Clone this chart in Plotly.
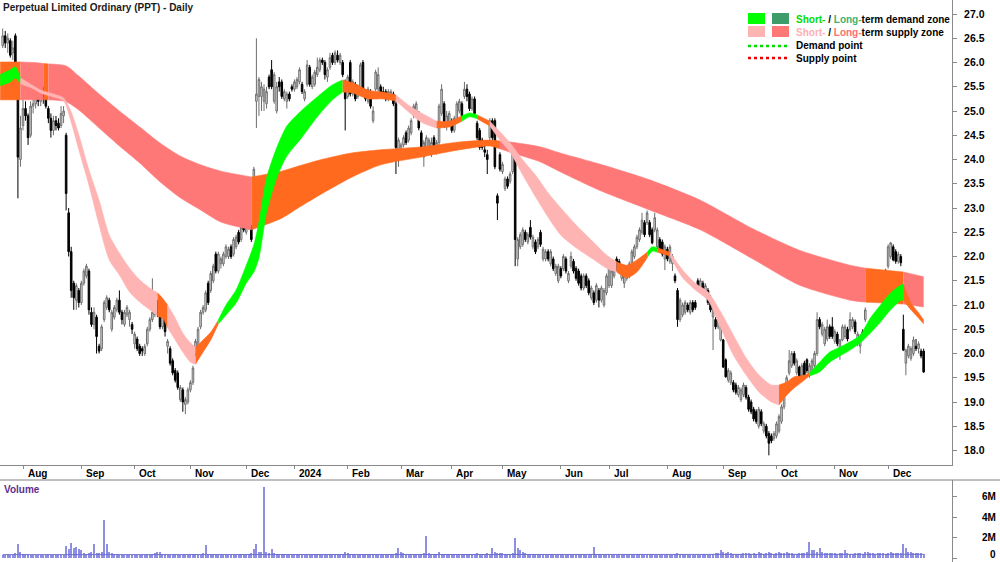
import plotly.graph_objects as go

# ---------------- data ----------------
opens = [
 26.35,26.55,26.40,26.45,26.20,26.55,25.55,24.00,
 24.70,25.05,24.90,24.50,25.10,25.15,25.30,25.20,25.35,25.40,25.05,24.85,24.60,24.80,24.75,24.70,24.90,24.50,22.90,22.10,21.45,21.10,21.30,
 21.05,21.45,21.60,21.70,20.85,20.60,20.75,20.15,20.10,20.70,20.95,21.10,20.50,20.75,20.90,21.10,20.85,20.60,20.80,20.70,20.60,
 20.20,20.30,20.15,20.10,20.00,20.20,20.50,20.70,20.80,21.05,20.95,20.55,20.70,20.15,20.10,19.85,19.65,19.60,19.05,19.25,18.95,19.00,
 19.25,19.40,20.00,20.10,20.55,20.85,20.90,21.45,21.30,21.50,22.05,21.70,21.85,21.85,22.00,22.00,22.20,22.05,22.20,22.50,22.35,22.70,
 22.50,22.60,22.60,23.00,25.20,25.30,25.30,25.20,25.15,25.70,25.85,25.20,25.00,25.60,25.60,25.25,25.20,25.35,25.50,
 25.45,25.50,25.60,25.55,25.25,25.55,25.90,25.50,25.55,25.75,25.85,26.05,26.00,25.70,25.90,26.15,26.00,26.15,26.00,26.00,25.60,
 25.30,26.00,25.35,25.55,25.30,25.45,26.00,25.40,25.20,25.40,24.80,25.45,25.45,25.50,25.40,25.40,25.25,25.30,25.35,25.15,24.00,
 24.20,24.30,24.55,24.40,24.55,24.90,24.95,24.95,24.55,24.05,24.15,24.20,24.25,24.45,24.15,24.35,24.95,25.15,24.70,24.75,
 24.80,24.60,24.80,25.00,25.15,25.30,25.45,25.35,25.05,25.25,24.75,24.60,24.40,24.20,24.10,24.45,24.80,24.80,23.25,24.10,
 23.75,23.40,23.60,23.55,23.75,24.00,21.95,22.20,22.25,22.50,22.30,22.60,22.20,22.30,22.20,22.50,21.95,21.95,22.10,21.85,21.95,21.65,21.50,
 21.75,21.75,21.95,21.50,21.80,21.90,21.75,21.70,21.60,21.35,21.60,21.50,21.15,21.25,21.10,21.30,21.10,21.00,21.25,
 21.40,21.40,21.60,21.95,21.90,21.55,21.45,21.55,21.60,21.87,22.00,22.20,22.35,22.50,22.70,22.70,22.70,22.55,22.55,22.20,22.35,22.30,21.95,
 22.15,21.90,21.85,21.60,21.30,20.70,20.80,20.85,21.00,20.85,21.05,21.05,21.50,21.30,21.45,21.20,21.30,21.15,20.75,20.70,20.55,20.28,
 20.28,19.87,19.45,19.40,19.40,19.35,19.15,19.05,19.15,19.30,19.10,19.00,18.85,18.80,18.50,18.80,18.40,18.50,18.35,18.30,18.25,
 18.30,18.40,18.60,18.90,19.25,19.60,19.75,20.00,19.60,19.72,19.55,19.80,19.87,19.55,19.60,19.75,20.00,20.70,20.40,20.20,20.30,20.55,20.55,
 20.25,20.40,20.07,20.28,20.35,20.50,20.50,20.55,20.65,20.20,20.15,20.45,20.70,21.10,21.65,21.25,21.45,21.65,21.60,21.35,21.45,
 21.80,22.00,22.20,22.10,21.90,22.00,20.50,19.80,19.95,19.90,20.00,20.15,20.10,20.05,20.05,
]
highs = [
 26.70,26.65,26.60,26.50,26.45,26.60,25.60,24.90,
 25.30,25.20,24.95,25.20,25.25,25.45,25.50,25.45,25.50,25.50,25.10,24.95,24.90,24.90,24.85,25.10,25.10,24.55,23.00,22.20,21.50,21.45,21.35,
 21.50,21.75,21.85,21.75,20.95,20.95,20.80,20.20,20.60,21.10,21.20,21.15,20.90,21.00,21.15,21.30,20.90,20.90,21.00,20.90,20.65,
 20.45,20.35,20.20,20.15,20.20,20.55,20.75,21.55,21.10,21.10,21.00,20.85,20.75,20.30,20.15,19.90,19.70,19.65,19.35,19.30,19.10,19.30,
 19.45,19.75,20.30,20.55,20.90,21.00,21.30,21.50,21.70,21.85,22.10,22.10,22.00,22.10,22.25,22.20,22.25,22.40,22.45,22.55,22.65,22.75,
 22.80,22.90,22.65,23.85,26.50,25.70,25.60,25.55,25.50,25.75,26.05,25.80,25.60,25.70,25.65,25.45,25.40,25.40,25.55,
 25.65,25.70,25.90,25.60,25.45,26.05,25.95,25.75,25.85,26.10,26.10,26.10,26.05,25.90,26.20,26.20,26.25,26.25,26.20,26.05,25.65,
 25.75,26.05,25.65,25.60,25.55,26.00,26.05,25.45,25.50,25.45,25.10,25.85,25.90,25.55,25.50,25.45,25.45,25.45,25.40,25.20,24.45,
 24.35,24.50,24.60,24.70,24.85,25.15,25.20,25.00,24.60,24.40,24.50,24.45,24.45,24.50,24.40,25.15,25.55,25.20,25.00,25.00,
 24.85,24.90,25.20,25.25,25.20,25.60,25.55,25.40,25.30,25.30,24.80,24.65,24.45,24.30,24.20,24.85,24.85,24.85,23.30,24.15,
 23.95,23.65,23.65,23.75,24.30,24.05,22.40,22.50,22.60,22.55,22.50,22.75,22.45,22.35,22.40,22.55,22.20,22.15,22.15,22.15,22.00,21.85,21.85,
 21.80,22.05,22.00,21.70,22.10,21.95,21.80,21.75,21.65,21.65,21.65,21.55,21.40,21.30,21.45,21.35,21.40,21.35,21.65,
 21.85,21.75,21.90,22.00,21.95,21.75,21.70,21.80,21.90,22.15,22.25,22.45,22.60,22.90,22.75,22.95,22.75,22.60,22.90,22.60,22.40,22.35,22.25,
 22.20,22.25,22.05,21.65,21.35,21.15,21.05,21.10,21.05,21.10,21.10,21.10,21.55,21.55,21.50,21.45,21.35,21.20,21.00,20.75,20.75,20.60,
 20.30,19.90,19.70,19.65,19.45,19.40,19.35,19.30,19.40,19.35,19.15,19.05,18.90,18.85,18.90,18.85,18.60,18.55,18.40,18.35,18.40,
 18.60,18.75,18.95,19.35,19.55,20.07,20.05,20.05,19.90,19.75,19.80,19.85,19.90,19.80,19.90,20.05,20.85,20.75,20.65,20.55,20.70,20.60,20.75,
 20.50,20.45,20.30,20.60,20.60,20.55,20.85,20.75,20.70,20.45,20.40,20.50,20.95,21.70,21.70,21.55,21.50,21.70,21.65,21.55,21.75,
 22.25,22.30,22.25,22.15,22.10,22.05,20.80,20.10,20.20,20.15,20.35,20.30,20.25,20.10,20.10,
]
lows = [
 26.30,26.30,26.20,26.10,26.05,25.90,23.20,23.85,
 24.60,24.80,24.30,24.45,24.95,25.05,25.10,25.10,25.15,25.05,24.75,24.45,24.50,24.60,24.60,24.65,24.75,22.95,22.00,21.15,20.90,20.90,20.95,
 21.00,21.40,21.55,20.80,20.55,20.50,20.00,20.00,20.05,20.65,20.90,20.85,20.45,20.70,20.85,20.80,20.60,20.55,20.75,20.55,20.40,
 20.10,20.05,19.95,19.95,19.95,20.15,20.45,20.65,20.75,20.75,20.50,20.50,20.35,20.00,19.75,19.55,19.40,19.25,19.00,18.80,18.75,18.95,
 19.20,19.35,19.95,20.05,20.50,20.80,20.85,21.00,21.25,21.45,21.65,21.65,21.75,21.80,21.95,21.95,21.95,22.00,22.15,22.25,22.30,22.50,
 22.45,22.55,22.30,22.95,24.65,24.90,25.00,25.00,25.05,25.45,25.45,25.15,24.95,25.40,25.25,25.20,25.05,25.20,25.40,
 25.40,25.45,25.55,25.35,25.20,25.50,25.50,25.45,25.50,25.70,25.80,25.95,25.65,25.60,25.85,25.95,25.95,26.00,25.95,25.70,24.60,
 25.25,25.30,25.30,25.20,25.25,25.40,25.35,25.20,25.15,25.05,24.75,25.40,25.40,25.30,25.25,25.20,25.20,25.25,25.10,23.70,23.85,
 24.10,24.25,24.30,24.35,24.50,24.85,24.90,24.60,24.15,23.85,24.10,24.15,24.05,24.20,24.10,24.30,24.90,24.65,24.60,24.70,
 24.55,24.55,24.75,24.95,24.85,25.25,25.20,25.00,25.00,24.90,24.40,24.20,24.20,24.05,23.70,24.40,24.40,23.80,22.75,23.75,
 23.70,23.35,23.40,23.50,23.70,21.80,21.80,22.15,22.20,22.30,22.25,22.35,22.15,22.05,22.15,22.20,21.90,21.90,21.90,21.80,21.70,21.60,21.45,
 21.55,21.70,21.65,21.45,21.75,21.65,21.50,21.40,21.30,21.30,21.35,21.20,21.10,21.00,21.05,20.95,21.05,20.95,21.20,
 21.35,21.35,21.55,21.70,21.65,21.50,21.35,21.50,21.55,21.85,21.95,22.15,22.30,22.45,22.40,22.65,22.40,22.25,22.50,22.15,22.10,22.00,21.72,
 21.90,21.85,21.70,21.45,20.55,20.65,20.75,20.80,20.85,20.80,20.85,20.90,21.30,21.25,21.20,21.15,21.00,20.85,20.07,20.50,20.50,20.25,
 19.70,19.50,19.40,19.35,19.20,19.15,19.10,19.00,19.10,19.05,18.80,18.75,18.60,18.55,18.45,18.50,18.35,18.25,17.90,18.15,18.20,
 18.25,18.35,18.55,18.85,19.20,19.55,19.70,19.75,19.55,19.50,19.50,19.50,19.60,19.50,19.55,19.70,19.95,20.50,20.35,20.15,20.25,20.30,20.30,
 20.20,20.15,19.87,20.25,20.30,20.25,20.45,20.50,20.40,20.15,20.00,20.35,20.65,21.05,21.20,21.20,21.10,21.25,21.35,21.30,21.40,
 21.75,21.95,21.90,21.85,21.85,21.80,20.05,19.55,19.90,19.85,19.95,20.05,20.00,19.90,19.60,
]
closes = [
 26.55,26.40,26.50,26.15,26.30,25.95,24.05,24.65,
 25.05,24.90,24.45,25.10,25.15,25.35,25.20,25.40,25.30,25.10,24.85,24.60,24.80,24.70,24.65,24.95,25.00,23.30,22.10,21.30,21.15,21.40,21.05,
 21.45,21.70,21.80,20.90,20.60,20.85,20.35,20.05,20.55,21.05,21.15,20.90,20.85,20.95,21.10,20.85,20.70,20.85,20.95,20.85,20.50,
 20.40,20.10,20.00,20.05,20.15,20.50,20.70,20.85,21.05,20.85,20.55,20.80,20.45,20.25,19.80,19.60,19.45,19.30,19.30,19.00,19.05,19.25,
 19.40,19.70,20.25,20.50,20.85,20.95,21.25,21.05,21.65,21.80,21.70,22.05,21.95,22.05,22.20,22.15,22.00,22.35,22.40,22.30,22.60,22.55,
 22.75,22.80,22.35,23.80,25.35,25.65,25.50,25.45,25.40,25.50,25.50,25.75,25.50,25.50,25.30,25.40,25.35,25.25,25.45,
 25.60,25.65,25.85,25.40,25.40,25.95,25.55,25.70,25.80,25.90,26.05,26.00,25.75,25.85,26.10,26.00,26.20,26.05,26.15,25.75,25.25,
 25.70,25.35,25.60,25.25,25.50,25.95,25.40,25.25,25.45,25.10,25.00,25.80,25.75,25.35,25.30,25.25,25.40,25.40,25.15,24.25,24.40,
 24.30,24.45,24.35,24.65,24.80,25.10,25.15,24.65,24.20,24.35,24.45,24.40,24.35,24.25,24.35,25.10,25.45,24.70,24.90,24.95,
 24.60,24.85,25.15,25.20,24.90,25.45,25.30,25.05,25.25,24.95,24.45,24.25,24.25,24.15,24.00,24.80,24.45,23.85,23.10,23.80,
 23.90,23.60,23.45,23.70,24.15,22.35,22.35,22.45,22.55,22.35,22.45,22.40,22.40,22.10,22.35,22.25,22.15,22.10,21.95,22.10,21.75,21.80,21.80,
 21.60,22.00,21.70,21.65,22.00,21.70,21.55,21.45,21.35,21.60,21.40,21.25,21.35,21.05,21.40,21.10,21.35,21.30,21.60,
 21.80,21.70,21.85,21.72,21.70,21.70,21.65,21.75,21.85,22.10,22.20,22.40,22.55,22.75,22.45,22.90,22.45,22.28,22.80,22.55,22.13,22.05,22.20,
 21.95,22.20,22.00,21.50,20.70,21.10,21.00,21.05,20.90,21.05,20.90,20.95,21.35,21.50,21.25,21.40,21.05,20.90,20.95,20.55,20.70,20.55,
 19.72,19.52,19.65,19.60,19.25,19.20,19.30,19.25,19.35,19.10,18.85,18.80,18.65,18.60,18.85,18.55,18.55,18.30,18.15,18.20,18.35,
 18.55,18.70,18.90,19.30,19.50,19.85,20.00,19.80,19.85,19.52,19.75,19.55,19.65,19.75,19.85,20.00,20.70,20.55,20.60,20.50,20.55,20.35,20.35,
 20.45,20.20,20.28,20.55,20.55,20.30,20.70,20.70,20.45,20.40,20.35,20.40,20.90,21.65,21.25,21.50,21.15,21.30,21.40,21.50,21.72,
 22.20,22.28,21.93,21.90,22.05,21.87,20.07,20.07,20.15,20.10,20.28,20.10,20.20,19.95,19.62,
]
# volume, millions of shares
volumes = [
 0.30,0.25,0.35,0.28,0.30,0.45,1.40,0.55,
 0.40,0.35,0.38,0.30,0.28,0.33,0.30,0.27,0.32,0.30,0.35,0.28,0.30,0.26,0.32,0.30,0.34,1.20,0.90,1.50,1.00,1.10,0.90,
 0.80,0.50,0.40,0.45,0.55,1.40,0.50,0.45,0.60,3.70,1.40,0.60,0.45,0.40,0.35,0.30,0.32,0.28,0.30,0.27,0.25,
 0.30,0.28,0.32,0.30,0.27,0.35,0.30,0.40,0.45,0.60,0.60,0.40,0.35,0.30,0.33,0.30,0.35,0.32,0.30,0.28,0.34,0.30,
 0.35,0.40,0.38,0.30,0.32,0.45,1.30,0.40,0.35,0.30,0.32,0.28,0.30,0.33,0.30,0.27,0.30,0.32,0.28,0.30,0.35,0.30,
 0.35,0.40,0.45,0.90,1.40,0.60,0.55,7.00,0.60,0.50,0.90,0.45,0.40,0.38,0.35,0.40,0.30,0.28,0.25,
 0.30,0.32,0.35,0.30,0.28,0.33,0.30,0.32,0.35,0.30,0.28,0.30,0.33,0.30,0.32,0.30,0.28,0.35,0.30,0.32,0.60,
 0.45,0.40,0.35,0.32,0.30,0.33,0.30,0.28,0.30,0.32,0.35,0.30,0.33,0.30,0.28,0.30,0.32,0.35,0.30,0.45,1.00,
 0.60,0.45,0.40,0.35,0.32,0.30,0.33,0.35,0.40,0.45,2.20,0.50,0.40,0.35,0.38,0.60,0.35,0.30,0.32,0.30,
 0.30,0.32,0.35,0.30,0.33,0.40,0.35,0.30,0.32,0.38,0.45,0.40,0.35,0.38,0.45,0.40,1.00,0.55,0.50,0.45,
 0.45,0.40,0.42,0.38,0.45,2.00,1.00,0.80,0.55,0.45,0.40,0.38,0.35,0.33,0.30,0.35,0.32,0.30,0.33,0.35,0.30,0.28,0.32,
 0.35,0.32,0.30,0.33,0.30,0.28,0.32,0.35,0.30,0.33,0.30,0.32,0.35,1.10,0.40,0.35,0.32,0.30,0.33,
 0.35,0.32,0.30,0.33,0.35,0.30,0.28,0.32,0.30,0.33,0.35,0.38,0.40,0.35,0.32,0.30,0.33,0.35,0.32,0.30,0.28,0.30,0.32,
 0.35,0.33,0.30,0.40,0.45,0.38,0.35,0.32,0.30,0.33,0.30,0.28,0.30,0.32,0.35,0.30,0.33,0.30,0.40,0.45,0.50,0.80,
 0.60,0.50,0.55,0.45,0.40,0.38,0.42,0.40,0.45,0.50,0.45,0.40,0.48,0.42,0.60,0.45,0.40,0.50,0.55,0.45,0.40,
 0.45,0.60,0.50,0.45,0.55,0.50,0.45,0.40,0.42,0.45,0.50,0.45,0.55,1.60,0.80,0.80,0.60,1.00,0.55,0.50,0.45,0.50,0.45,
 0.45,0.40,0.45,0.50,0.80,0.45,0.40,0.42,0.45,0.50,0.45,0.40,0.55,0.60,0.50,0.45,0.40,0.45,0.50,0.45,0.40,
 0.50,0.55,0.45,0.50,0.45,0.50,1.40,1.00,0.60,0.55,0.50,0.45,0.50,0.45,0.40,
]
vol_avg_idx = [0, 60, 120, 180, 240, 300, 363]
vol_avg = [0.33, 0.34, 0.33, 0.34, 0.33, 0.35, 0.36]

# month axis (trading-day index of first session of each month)
month_idx = [8, 31, 52, 74, 96, 115, 136, 157, 177, 197, 220, 239, 262, 284, 305, 328, 349]
month_labels = ["Aug", "Sep", "Oct", "Nov", "Dec", "2024", "Feb", "Mar", "Apr",
                "May", "Jun", "Jul", "Aug", "Sep", "Oct", "Nov", "Dec"]

price_ticks = [18.0, 18.5, 19.0, 19.5, 20.0, 20.5, 21.0, 21.5, 22.0, 22.5,
               23.0, 23.5, 24.0, 24.5, 25.0, 25.5, 26.0, 26.5, 27.0]
vol_ticks = [0, 2, 4, 6]
vol_tick_labels = ["0", "2M", "4M", "6M"]

# long-term zone band (edges read at sample sessions)
long_idx = [-1, 7, 12, 16, 18, 25, 30, 38, 46, 54, 62, 70, 78, 86, 98, 110, 117, 125, 137,
            149, 165, 180, 192, 196, 200, 212, 220, 235, 255, 275, 295, 314, 334, 340, 355, 363]
long_top = [26.01, 26.01, 26.00, 25.98, 25.97, 25.93, 25.72, 25.35, 25.00, 24.67, 24.34, 24.07,
            23.89, 23.76, 23.64, 23.76, 23.87, 23.99, 24.13, 24.20, 24.26, 24.36, 24.40, 24.38,
            24.36, 24.26, 24.13, 23.91, 23.58, 23.16, 22.59, 22.13, 21.82, 21.76, 21.68, 21.58]
long_bot = [25.23, 25.23, 25.23, 25.23, 25.23, 25.19, 25.02, 24.65, 24.28, 23.93, 23.54, 23.21,
            22.96, 22.71, 22.55, 22.79, 23.02, 23.27, 23.62, 23.89, 24.05, 24.20, 24.28, 24.22,
            24.15, 23.95, 23.74, 23.37, 22.96, 22.55, 21.97, 21.41, 21.10, 21.06, 21.02, 20.96]
long_zone_start = [-1, 7, 16, 18, 98, 196, 340, 355]
long_zone_end = [7, 16, 18, 98, 196, 340, 355, 363]
long_zone_kind = ["mixed", "supply", "mixed", "supply", "mixed", "supply", "mixed", "supply"]

# short-term zone band
short_idx = [-1, 3, 5, 7, 12, 15, 20, 24, 27, 30, 34, 38, 42, 46, 50, 54, 58, 61, 63, 65, 68, 71,
             74, 76, 79, 82, 85, 88, 92, 96, 99, 101, 104, 108, 112, 118, 124, 130, 134, 138, 144,
             150, 155, 160, 165, 171, 176, 181, 184, 187, 192, 196, 200, 205, 210, 215, 220, 226,
             232, 238, 242, 246, 250, 254, 256, 258, 263, 268, 273, 278, 283, 288, 293, 298, 303,
             306, 309, 312, 315, 318, 322, 326, 330, 334, 338, 342, 346, 350, 354, 355, 358, 361, 363]
short_top = [25.75, 25.85, 25.91, 25.68, 25.52, 25.43, 25.35, 25.27, 24.98, 24.51, 23.78, 23.16,
             22.44, 22.07, 21.76, 21.52, 21.35, 21.25, 21.14, 21.00, 20.73, 20.42, 20.22, 20.13,
             20.28, 20.44, 20.69, 21.00, 21.31, 21.82, 22.24, 22.71, 23.62, 24.24, 24.69, 25.02,
             25.29, 25.54, 25.64, 25.58, 25.43, 25.39, 25.33, 25.12, 24.96, 24.79, 24.79, 24.90,
             24.96, 24.92, 24.79, 24.57, 24.34, 23.99, 23.68, 23.31, 23.00, 22.65, 22.34, 22.03,
             21.89, 21.82, 21.93, 22.09, 22.20, 22.18, 22.09, 21.72, 21.45, 21.27, 20.86, 20.38,
             19.91, 19.56, 19.35, 19.35, 19.41, 19.52, 19.54, 19.60, 19.82, 20.03, 20.13, 20.24,
             20.38, 20.73, 21.00, 21.25, 21.41, 21.43, 21.04, 20.84, 20.69]
short_bot = [25.52, 25.60, 25.68, 25.56, 25.46, 25.37, 25.29, 25.21, 24.77, 24.20, 23.47, 22.65,
             21.93, 21.62, 21.27, 21.06, 20.90, 20.77, 20.73, 20.53, 20.28, 20.03, 19.82, 19.78,
             20.03, 20.28, 20.61, 20.79, 21.04, 21.45, 21.68, 21.97, 22.90, 23.62, 24.07, 24.46,
             24.88, 25.23, 25.39, 25.37, 25.25, 25.25, 25.21, 24.98, 24.77, 24.65, 24.67, 24.79,
             24.88, 24.84, 24.69, 24.40, 24.15, 23.68, 23.23, 22.81, 22.44, 22.18, 21.97, 21.76,
             21.68, 21.56, 21.68, 21.97, 22.11, 22.09, 22.01, 21.56, 21.31, 21.10, 20.53, 19.97,
             19.56, 19.21, 19.00, 18.94, 19.14, 19.29, 19.41, 19.54, 19.62, 19.82, 19.95, 20.07,
             20.22, 20.42, 20.65, 20.90, 21.10, 21.10, 20.90, 20.73, 20.61]
short_zone_start = [-1, 7, 61, 65, 76, 85, 134, 155, 171, 181, 187, 192, 242, 254, 258, 263, 306, 318, 355]
short_zone_end = [7, 61, 65, 76, 85, 134, 155, 171, 181, 187, 192, 242, 254, 258, 263, 306, 318, 355, 363]
short_zone_kind = ["demand", "supply", "mixed", "supply", "mixed", "demand", "mixed", "supply",
                   "mixed", "demand", "mixed", "supply", "mixed", "demand", "mixed", "supply",
                   "mixed", "demand", "mixed"]

# ---------------- styling ----------------
W, H = 1000, 562
RIGHT = 952                      # right edge of plotting area (px)
C_SHORT_DEM = "#00FF00"
C_LONG_DEM = "#3E9C6B"
C_SHORT_SUP = "#FFB4B4"
C_LONG_SUP = "#FF7878"
C_MIXED = "#FF6A1F"
FONT = "Liberation Sans, Arial, sans-serif"

short_colors = {"demand": C_SHORT_DEM, "supply": C_SHORT_SUP, "mixed": C_MIXED}
long_colors = {"demand": C_LONG_DEM, "supply": C_LONG_SUP, "mixed": C_MIXED}

def px(x):
    return x / RIGHT

def py(y):
    return 1 - y / H

x_all = list(range(len(closes)))
assert len(opens) == len(highs) == len(lows) == len(closes) == len(volumes), (
    len(opens), len(highs), len(lows), len(closes), len(volumes))

fig = go.Figure()

def add_band(idx, top, bot, starts, ends, kinds, cmap):
    for a, b, k in zip(starts, ends, kinds):
        sel = [j for j, v in enumerate(idx) if a <= v <= b]
        xs = [idx[j] for j in sel]
        col = cmap[k]
        fig.add_trace(go.Scatter(x=xs, y=[bot[j] for j in sel], mode="lines",
                                 line=dict(width=0.6, color=col, shape="spline", smoothing=0.7),
                                 hoverinfo="skip", showlegend=False, xaxis="x", yaxis="y"))
        fig.add_trace(go.Scatter(x=xs, y=[top[j] for j in sel], mode="lines",
                                 line=dict(width=0.6, color=col, shape="spline", smoothing=0.7),
                                 fill="tonexty", fillcolor=col,
                                 hoverinfo="skip", showlegend=False, xaxis="x", yaxis="y"))

add_band(long_idx, long_top, long_bot, long_zone_start, long_zone_end, long_zone_kind, long_colors)
add_band(short_idx, short_top, short_bot, short_zone_start, short_zone_end, short_zone_kind, short_colors)

fig.add_trace(go.Candlestick(
    x=x_all, open=opens, high=highs, low=lows, close=closes,
    increasing=dict(line=dict(color="#6E6E6E", width=1), fillcolor="#E2E2E2"),
    decreasing=dict(line=dict(color="#000000", width=1), fillcolor="#000000"),
    whiskerwidth=0, showlegend=False, xaxis="x", yaxis="y", hoverinfo="skip"))

fig.add_trace(go.Bar(x=x_all, y=volumes, width=0.45, marker=dict(color="#8E8EE2", line=dict(width=0)),
                     showlegend=False, xaxis="x2", yaxis="y2", hoverinfo="skip"))
fig.add_trace(go.Scatter(x=vol_avg_idx, y=vol_avg, mode="lines", line=dict(color="#7070D0", width=1),
                         showlegend=False, xaxis="x2", yaxis="y2", hoverinfo="skip"))

x_lo = (0 - 2.7) / 2.537
x_hi = (RIGHT - 2.7) / 2.537
p_top = 27 + 14 / 48.5
p_bot = 27 - (465 - 14) / 48.5
AXC = "#8A8A8A"

fig.update_layout(
    width=W, height=H, autosize=False,
    margin=dict(l=0, r=W - RIGHT, t=0, b=0),
    paper_bgcolor="white", plot_bgcolor="white",
    showlegend=False, bargap=0, boxgap=0.12,
    font=dict(family=FONT, size=10, color="#000000"),
    xaxis=dict(domain=[0, 1], range=[x_lo, x_hi], anchor="y", showgrid=False, zeroline=False,
               showline=True, linecolor=AXC, linewidth=1, ticks="outside", ticklen=3,
               tickcolor=AXC, tickvals=month_idx, showticklabels=False,
               rangeslider=dict(visible=False), fixedrange=True),
    yaxis=dict(domain=[1 - 465 / H, 1], range=[p_bot, p_top], anchor="x", side="right",
               showgrid=False, zeroline=False, showline=True, linecolor=AXC, linewidth=1,
               ticks="outside", ticklen=4, tickcolor=AXC, tickvals=price_ticks,
               ticktext=[f"{v:.1f}" for v in price_ticks], ticklabelstandoff=5,
               tickfont=dict(family=FONT, size=10.5, color="#000000", weight="bold")),
    xaxis2=dict(domain=[0, 1], range=[x_lo, x_hi], anchor="y2", matches="x", showgrid=False,
                zeroline=False, showline=False, showticklabels=False, ticks=""),
    yaxis2=dict(domain=[0, 82 / H], range=[-0.39, 7.65], anchor="x2", side="right",
                showgrid=False, zeroline=False, showline=True, linecolor=AXC, linewidth=1,
                ticks="outside", ticklen=4, tickcolor=AXC, tickvals=vol_ticks,
                showticklabels=False),
)

shapes = [
    dict(type="line", xref="paper", yref="paper", x0=0, x1=px(W), y0=py(480), y1=py(480),
         line=dict(color="#808080", width=1)),
    # legend swatches
    dict(type="rect", xref="paper", yref="paper", x0=px(748), x1=px(765), y0=py(24), y1=py(13),
         fillcolor=C_SHORT_DEM, line=dict(width=0)),
    dict(type="rect", xref="paper", yref="paper", x0=px(772), x1=px(789), y0=py(24), y1=py(13),
         fillcolor=C_LONG_DEM, line=dict(width=0)),
    dict(type="rect", xref="paper", yref="paper", x0=px(748), x1=px(765), y0=py(37), y1=py(26),
         fillcolor=C_SHORT_SUP, line=dict(width=0)),
    dict(type="rect", xref="paper", yref="paper", x0=px(772), x1=px(789), y0=py(37), y1=py(26),
         fillcolor=C_LONG_SUP, line=dict(width=0)),
    dict(type="line", xref="paper", yref="paper", x0=px(748), x1=px(789), y0=py(46), y1=py(46),
         line=dict(color="#00DD00", width=2.5, dash="dot")),
    dict(type="line", xref="paper", yref="paper", x0=px(748), x1=px(789), y0=py(58), y1=py(58),
         line=dict(color="#EE0000", width=2.5, dash="dot")),
]

ann = []
def label(text, x, y, xanchor="left", color="#000000", xref="paper", yanchor="middle"):
    ann.append(dict(text=text, x=x, y=y, xref=xref, yref="paper", xanchor=xanchor,
                    yanchor=yanchor, showarrow=False,
                    font=dict(family=FONT, size=10, color=color, weight="bold")))

label("Perpetual Limited Ordinary (PPT) - Daily", px(1), py(8), color="#1A1A1A")
label("Volume", px(2), py(489), color="#5C2D91")
label("<span style='color:#00DD00'>Short-</span> / <span style='color:#3CB371'>Long-</span>term demand zone",
      px(794), py(19))
label("<span style='color:#FFB0B0'>Short-</span> / <span style='color:#FF6F6F'>Long-</span>term supply zone",
      px(794), py(32))
label("Demand point", px(794), py(45))
label("Supply point", px(794), py(58))
for m, t in zip(month_idx, month_labels):
    label(t, m + 1.0, py(473.5), xref="x")
for v, t in zip(vol_ticks, vol_tick_labels):
    yy = 558 - v * 10.2
    if v == 0:
        label(t, px(998), py(562), xanchor="right", yanchor="bottom")
    else:
        label(t, px(998), py(yy), xanchor="right")

fig.update_layout(shapes=shapes, annotations=ann)
fig.write_html("out.html")
